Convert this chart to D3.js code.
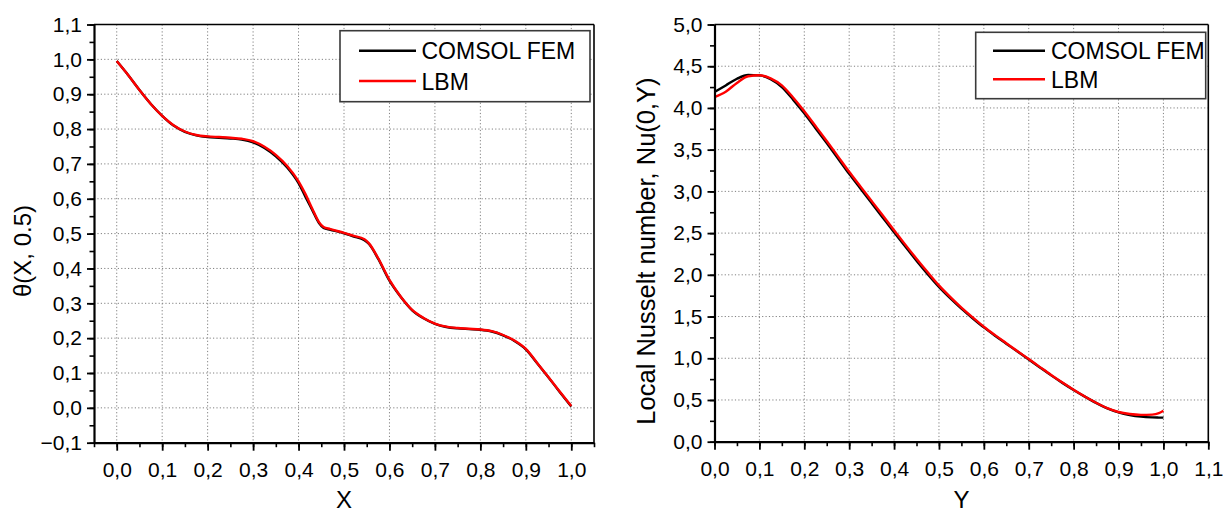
<!DOCTYPE html>
<html>
<head>
<meta charset="utf-8">
<script src="https://cdn.jsdelivr.net/npm/d3@7/dist/d3.min.js"></script>
<style>
  html, body { margin: 0; padding: 0; background: #fff; }
  svg { display: block; font-family: "Liberation Sans", Arial, sans-serif; }
</style>
</head>
<body>
<svg id="fig" width="1223" height="515"></svg>
<script>
// ---- temperature profile along the mid-height line, theta(X, 0.5) ----
const thetaX = [0.00, 0.025, 0.05, 0.075, 0.10, 0.125, 0.15, 0.175, 0.20, 0.225, 0.25, 0.275,
  0.30, 0.325, 0.35, 0.375, 0.40, 0.415, 0.43, 0.445, 0.455, 0.47, 0.50, 0.52, 0.545, 0.555,
  0.575, 0.60, 0.625, 0.65, 0.675, 0.70, 0.725, 0.75, 0.775, 0.80, 0.825, 0.85, 0.875, 0.90,
  0.925, 0.95, 0.975, 1.00];
const thetaFem = [0.995, 0.955, 0.912, 0.872, 0.838, 0.810, 0.792, 0.782, 0.777, 0.775, 0.773, 0.770,
  0.762, 0.746, 0.722, 0.690, 0.645, 0.606, 0.568, 0.530, 0.516, 0.511, 0.501, 0.492, 0.481, 0.470,
  0.428, 0.365, 0.318, 0.280, 0.257, 0.241, 0.232, 0.228, 0.226, 0.224, 0.219, 0.208, 0.192, 0.168,
  0.128, 0.087, 0.045, 0.004];
const thetaLbm = [0.995, 0.955, 0.912, 0.872, 0.838, 0.811, 0.793, 0.783, 0.779, 0.777, 0.775, 0.772,
  0.765, 0.749, 0.726, 0.694, 0.650, 0.614, 0.572, 0.533, 0.519, 0.513, 0.502, 0.494, 0.484, 0.472,
  0.430, 0.367, 0.319, 0.281, 0.258, 0.242, 0.233, 0.229, 0.227, 0.225, 0.220, 0.209, 0.193, 0.169,
  0.129, 0.088, 0.046, 0.005];
const thetaXTicks = [0.0, 0.1, 0.2, 0.3, 0.4, 0.5, 0.6, 0.7, 0.8, 0.9, 1.0];
const thetaYTicks = [-0.1, 0.0, 0.1, 0.2, 0.3, 0.4, 0.5, 0.6, 0.7, 0.8, 0.9, 1.0, 1.1];

// ---- local Nusselt number along the hot wall, Nu(0, Y) ----
const nuY = [0.00, 0.025, 0.05, 0.075, 0.10, 0.125, 0.15, 0.175, 0.20, 0.225, 0.25, 0.275, 0.30,
  0.325, 0.35, 0.375, 0.40, 0.425, 0.45, 0.475, 0.50, 0.525, 0.55, 0.575, 0.60, 0.625, 0.65,
  0.675, 0.70, 0.725, 0.75, 0.775, 0.80, 0.825, 0.85, 0.875, 0.90, 0.925, 0.95, 0.975, 0.99, 1.00];
const nuFem = [4.19, 4.27, 4.35, 4.395, 4.39, 4.345, 4.25, 4.10, 3.935, 3.757, 3.578, 3.395, 3.21,
  3.035, 2.86, 2.685, 2.51, 2.338, 2.17, 2.008, 1.855, 1.72, 1.595, 1.48, 1.37, 1.27, 1.175,
  1.08, 0.985, 0.89, 0.795, 0.705, 0.62, 0.54, 0.465, 0.40, 0.352, 0.32, 0.30, 0.291, 0.289, 0.288];
const nuLbm = [4.13, 4.195, 4.30, 4.38, 4.392, 4.355, 4.27, 4.125, 3.96, 3.783, 3.604, 3.42, 3.235,
  3.06, 2.885, 2.71, 2.535, 2.362, 2.193, 2.03, 1.873, 1.735, 1.607, 1.49, 1.378, 1.277, 1.181,
  1.085, 0.99, 0.894, 0.799, 0.709, 0.623, 0.542, 0.467, 0.402, 0.356, 0.332, 0.322, 0.325, 0.342, 0.37];
const nuXTicks = [0.0, 0.1, 0.2, 0.3, 0.4, 0.5, 0.6, 0.7, 0.8, 0.9, 1.0, 1.1];
const nuYTicks = [0.0, 0.5, 1.0, 1.5, 2.0, 2.5, 3.0, 3.5, 4.0, 4.5, 5.0];

const seriesNames = ["COMSOL FEM", "LBM"];
const seriesColors = ["#000000", "#ff0000"];

const svg = d3.select("#fig");
const fmt = v => d3.format(".1f")(v).replace(".", ",").replace("-0,0", "0,0");

function drawPanel(opt) {
  const x = d3.scaleLinear().domain(opt.xDomain).range([opt.left, opt.right]);
  const y = d3.scaleLinear().domain(opt.yDomain).range([opt.bottom, opt.top]);
  const g = svg.append("g");

  // dotted grid at interior major ticks
  const grid = g.append("g").attr("stroke", "#808080").attr("stroke-width", 1)
    .attr("stroke-dasharray", "1.2,2.2");
  opt.xTicks.filter(v => x(v) > opt.left + 1 && x(v) < opt.right - 1).forEach(v => {
    grid.append("line").attr("x1", x(v)).attr("x2", x(v)).attr("y1", opt.top).attr("y2", opt.bottom);
  });
  opt.yTicks.filter(v => y(v) > opt.top + 1 && y(v) < opt.bottom - 1).forEach(v => {
    grid.append("line").attr("y1", y(v)).attr("y2", y(v)).attr("x1", opt.left).attr("x2", opt.right);
  });

  // curves: reference solution first, lattice Boltzmann on top
  const line = ys => d3.line().curve(d3.curveMonotoneX)
    .x((d, i) => x(opt.xs[i])).y(d => y(d))(ys);
  [opt.fem, opt.lbm].forEach((ys, k) => {
    g.append("path").attr("d", line(ys)).attr("fill", "none")
      .attr("stroke", seriesColors[k]).attr("stroke-width", 2.4)
      .attr("stroke-linejoin", "round");
  });

  // frame top/right
  g.append("line").attr("x1", opt.left).attr("x2", opt.right).attr("y1", opt.top).attr("y2", opt.top)
    .attr("stroke", "#000").attr("stroke-width", 1.6);
  g.append("line").attr("x1", opt.right).attr("x2", opt.right).attr("y1", opt.top).attr("y2", opt.bottom)
    .attr("stroke", "#000").attr("stroke-width", 1.6);

  // minor ticks
  const xMinor = d3.range(opt.xDomain[0], opt.xDomain[1] + 1e-9, opt.xMinorStep)
    .map(v => Math.round(v * 1000) / 1000);
  const yMinor = d3.range(opt.yDomain[0], opt.yDomain[1] + 1e-9, opt.yMinorStep)
    .map(v => Math.round(v * 1000) / 1000);
  g.append("g").attr("transform", `translate(0,${opt.bottom})`)
    .call(d3.axisBottom(x).tickValues(xMinor).tickSize(4.5).tickSizeOuter(0).tickFormat(""))
    .call(s => s.select(".domain").remove())
    .selectAll("line").attr("stroke-width", 1.6);
  g.append("g").attr("transform", `translate(${opt.left},0)`)
    .call(d3.axisLeft(y).tickValues(yMinor).tickSize(4.5).tickSizeOuter(0).tickFormat(""))
    .call(s => s.select(".domain").remove())
    .selectAll("line").attr("stroke-width", 1.6);

  // major axes
  const ax = g.append("g").attr("transform", `translate(0,${opt.bottom})`)
    .call(d3.axisBottom(x).tickValues(opt.xTicks).tickSize(8).tickSizeOuter(0).tickPadding(11).tickFormat(fmt));
  ax.select(".domain").attr("stroke-width", 2.2);
  ax.selectAll("line").attr("stroke-width", 1.8);
  ax.selectAll("text").attr("font-size", 21).attr("fill", "#000");

  const ay = g.append("g").attr("transform", `translate(${opt.left},0)`)
    .call(d3.axisLeft(y).tickValues(opt.yTicks).tickSize(7).tickSizeOuter(0).tickPadding(5).tickFormat(fmt));
  ay.select(".domain").attr("stroke-width", 2.2);
  ay.selectAll("line").attr("stroke-width", 1.8);
  ay.selectAll("text").attr("font-size", 21).attr("fill", "#000");
  ax.attr("font-family", null); ay.attr("font-family", null);

  // axis titles
  g.append("text").attr("x", (opt.left + opt.right) / 2).attr("y", 508)
    .attr("text-anchor", "middle").attr("font-size", 24).text(opt.xTitle);
  g.append("text").attr("transform", `translate(${opt.yTitleX},251) rotate(-90)`)
    .attr("text-anchor", "middle").attr("font-size", opt.yTitleSize).text(opt.yTitle);

  // legend
  const L = opt.legend;
  const lg = g.append("g");
  lg.append("rect").attr("x", L.x).attr("y", L.y).attr("width", L.w).attr("height", L.h)
    .attr("fill", "#fff").attr("stroke", "#3a3a3a").attr("stroke-width", 1.6);
  seriesNames.forEach((name, k) => {
    const ly = L.rows[k];
    lg.append("line").attr("x1", L.lx1).attr("x2", L.lx2).attr("y1", ly).attr("y2", ly)
      .attr("stroke", seriesColors[k]).attr("stroke-width", 2.4);
    lg.append("text").attr("x", L.tx).attr("y", ly + 8.5).attr("font-size", 23).text(name);
  });
}

drawPanel({
  left: 94, right: 594, top: 24.5, bottom: 442.7,
  xDomain: [-0.05, 1.05], yDomain: [-0.1, 1.1],
  xMinorStep: 0.05, yMinorStep: 0.05,
  xTicks: thetaXTicks, yTicks: thetaYTicks,
  xs: thetaX, fem: thetaFem, lbm: thetaLbm,
  xTitle: "X", yTitle: "θ(X, 0.5)", yTitleX: 31, yTitleSize: 24,
  legend: { x: 340, y: 30.7, w: 250, h: 71, lx1: 359, lx2: 416, tx: 421.5, rows: [50.7, 81] }
});

drawPanel({
  left: 714.5, right: 1208.3, top: 24.5, bottom: 441.7,
  xDomain: [0, 1.1], yDomain: [0, 5],
  xMinorStep: 0.05, yMinorStep: 0.25,
  xTicks: nuXTicks, yTicks: nuYTicks,
  xs: nuY, fem: nuFem, lbm: nuLbm,
  xTitle: "Y", yTitle: "Local Nusselt number, Nu(0,Y)", yTitleX: 655, yTitleSize: 25.5,
  legend: { x: 975.7, y: 32.3, w: 230, h: 66.4, lx1: 993, lx2: 1045, tx: 1051, rows: [50.7, 79.3] }
});
</script>
</body>
</html>
